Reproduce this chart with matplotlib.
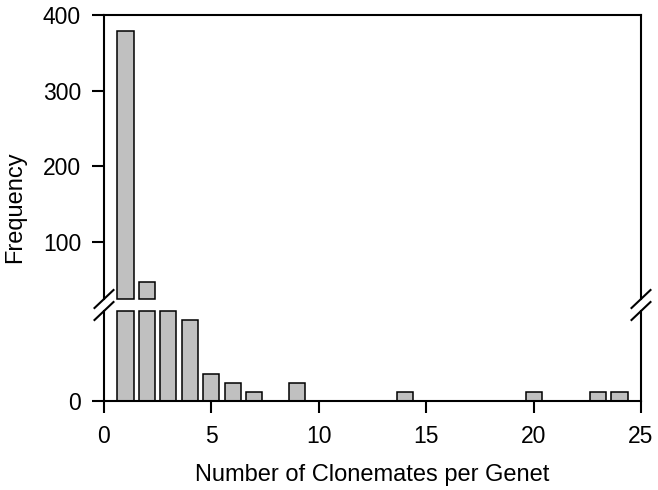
import matplotlib
matplotlib.use("Agg")
import matplotlib.pyplot as plt

plt.rcParams['font.family'] = ['Liberation Sans', 'DejaVu Sans']

# clonemates per genet and how many genets had that many
clonemates = [1, 2, 3, 4, 5, 6, 7, 9, 14, 20, 23, 24]
frequency = [379, 47, 18, 9, 3, 2, 1, 2, 1, 1, 1, 1]

x_ticks = [0, 5, 10, 15, 20, 25]
upper_ticks = [100, 200, 300, 400]
lower_ticks = [0]

upper_lim = (24.5, 400)
lower_lim = (0, 10)

W, H = 658, 490
fig = plt.figure(figsize=(W / 100, H / 100), dpi=100)

left, right = 104 / W, 641 / W
ax_top = fig.add_axes([left, 1 - 299 / H, right - left, (299 - 15) / H])
ax_bot = fig.add_axes([left, 1 - 401 / H, right - left, (401 - 311) / H])

bar_kw = dict(width=0.75, color='#c0c0c0', edgecolor='black',
              linewidth=1.1, clip_on=False)

# top panel: only the part of each bar above the break, closed at the break
top_x = [c for c, f in zip(clonemates, frequency) if f > upper_lim[0]]
top_h = [f - upper_lim[0] for f in frequency if f > upper_lim[0]]
ax_top.bar(top_x, top_h, bottom=upper_lim[0], **bar_kw)

# bottom panel: bars cut off at the top of the panel
bot_h = [min(f, lower_lim[1]) for f in frequency]
ax_bot.bar(clonemates, bot_h, **bar_kw)

for ax in (ax_top, ax_bot):
    ax.set_xlim(0, 25)
    for s in ax.spines.values():
        s.set_linewidth(1.5)
    ax.tick_params(direction='out', length=8.5, width=1.5, labelsize=16.5,
                   pad=8)

ax_top.set_ylim(*upper_lim)
ax_top.set_yticks(upper_ticks)
ax_top.spines['bottom'].set_visible(False)
ax_top.tick_params(axis='x', bottom=False, labelbottom=False)

ax_bot.set_ylim(*lower_lim)
ax_bot.set_yticks(lower_ticks)
ax_bot.spines['top'].set_visible(False)
ax_bot.set_xticks(x_ticks)
ax_bot.tick_params(axis='x', pad=9)
ax_bot.set_xlabel('Number of Clonemates per Genet', fontsize=17, labelpad=11)

# break marks on both vertical spines
dx, dy = 9.5 / W, 9 / H
for xs in (left, right):
    for yc in (1 - 299 / H, 1 - 311 / H):
        fig.add_artist(plt.Line2D([xs - dx, xs + dx], [yc - dy, yc + dy],
                                  color='black', linewidth=1.5))

fig.text(15 / W, 1 - 207 / H, 'Frequency', rotation=90, fontsize=17,
         ha='center', va='center')

fig.savefig('out.png', dpi=100)
